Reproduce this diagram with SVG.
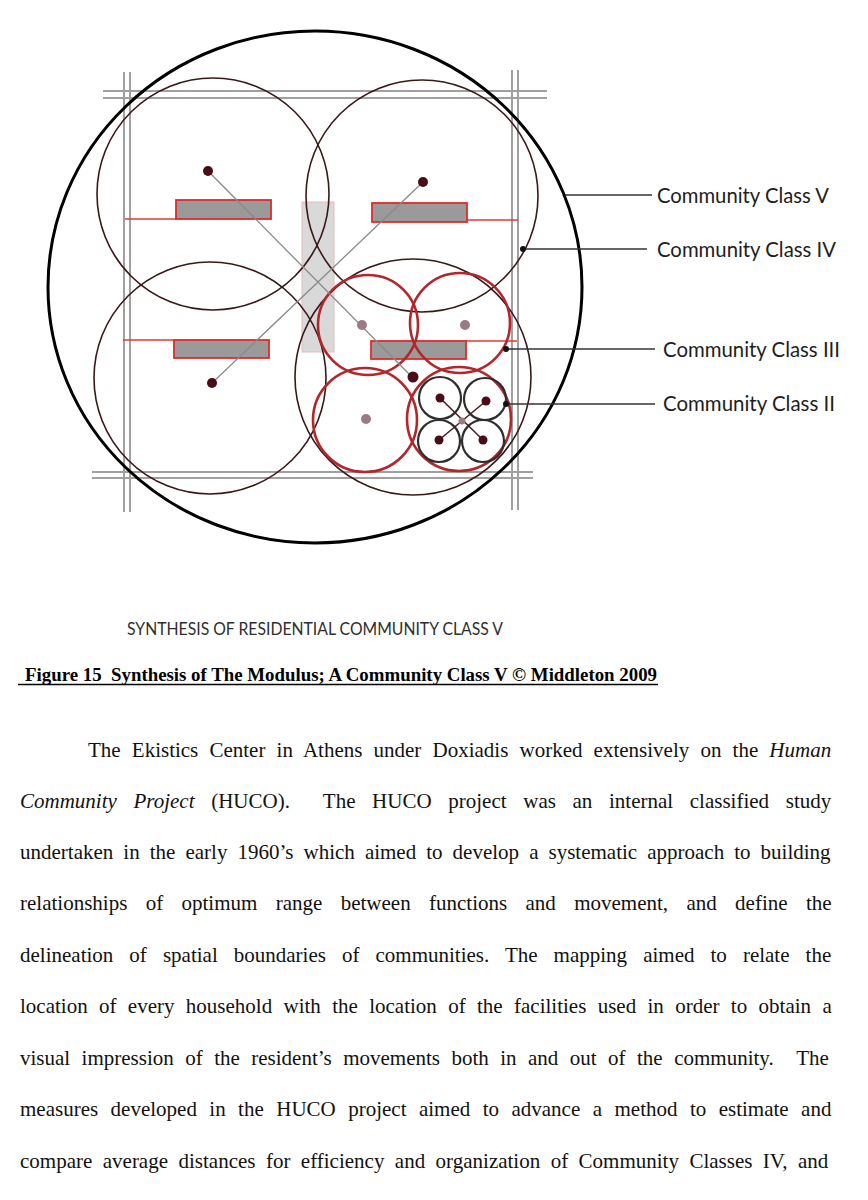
<svg xmlns="http://www.w3.org/2000/svg" width="868" height="1200" viewBox="0 0 868 1200">
<style>
.grid{stroke:#a0a0a0;stroke-width:2;fill:none}
.c5{fill:none;stroke:#000;stroke-width:3}
.c4{fill:none;stroke:#3a1818;stroke-width:1.6}
.c3{fill:none;stroke:#b3262a;stroke-width:2.6}
.c2{fill:none;stroke:#2e2e2e;stroke-width:2.2}
.bld{fill:#9a9a9a;stroke:#e02b2b;stroke-width:1.8}
.red{stroke:#e03a3a;stroke-width:1.6;fill:none}
.diag{stroke:#8a8a8a;stroke-width:1.3;fill:none}
.dk{fill:#4a0c16}
.mv{fill:#9c7a84}
.lead{stroke:#333;stroke-width:1.6;fill:none}
.lbl{font-family:Lato,"Liberation Sans",sans-serif;font-size:20.5px;fill:#1e1e1e}
.body text{font-family:"Liberation Serif","Times New Roman",serif;font-size:21px;fill:#111;white-space:pre}
.it{font-style:italic}
</style>
<rect width="868" height="1200" fill="#fff"/>
<g id="grid">
<line class="grid" x1="103" y1="91" x2="547" y2="91"/>
<line class="grid" x1="103" y1="98" x2="547" y2="98"/>
<line class="grid" x1="92" y1="472" x2="533" y2="472"/>
<line class="grid" x1="92" y1="478" x2="533" y2="478"/>
<line class="grid" x1="124" y1="72" x2="124" y2="512"/>
<line class="grid" x1="130" y1="72" x2="130" y2="512"/>
<line class="grid" x1="512" y1="70" x2="512" y2="510"/>
<line class="grid" x1="518" y1="70" x2="518" y2="510"/>
</g>
<g id="center-spine">
<rect x="302" y="202" width="32" height="150" fill="#d9d9d9" stroke="#e2bcbc" stroke-width="1"/>
</g>
<g id="class-v">
<ellipse class="c5" cx="315" cy="287" rx="267" ry="256"/>
</g>
<g id="class-iv">
<circle class="c4" cx="213" cy="194" r="116"/>
<circle class="c4" cx="422" cy="196" r="116"/>
<circle class="c4" cx="210" cy="378" r="116"/>
<circle class="c4" cx="413" cy="377" r="118"/>
</g>
<g id="buildings">
<line class="red" x1="125" y1="219" x2="176" y2="219"/>
<rect class="bld" x="176" y="200" width="95" height="19"/>
<line class="red" x1="467" y1="220" x2="518" y2="220"/>
<rect class="bld" x="372" y="203" width="95" height="19"/>
<line class="red" x1="123" y1="340" x2="174" y2="340"/>
<rect class="bld" x="174" y="340" width="95" height="18"/>
<line class="red" x1="466" y1="341" x2="517" y2="341"/>
<rect class="bld" x="371" y="341" width="95" height="18"/>
</g>
<g id="class-iii">
<circle class="c3" cx="368" cy="325" r="50"/>
<circle class="c3" cx="460" cy="323" r="50"/>
<circle class="c3" cx="365" cy="420" r="52"/>
<circle class="c3" cx="459" cy="419" r="52"/>
</g>
<g id="class-ii">
<circle class="c2" cx="440" cy="398" r="21"/>
<circle class="c2" cx="485" cy="399" r="21"/>
<circle class="c2" cx="439" cy="441" r="21"/>
<circle class="c2" cx="483" cy="441" r="21"/>
</g>
<g id="connectors">
<line class="diag" x1="208" y1="171" x2="413" y2="378"/>
<line class="diag" x1="423" y1="182" x2="212" y2="383"/>
<line stroke="#4a2020" stroke-width="1.6" x1="440" y1="398" x2="483" y2="440"/>
<line stroke="#4a2020" stroke-width="1.6" x1="486" y1="401" x2="439" y2="440"/>
<line class="lead" x1="565" y1="195" x2="652" y2="195"/>
<line class="lead" x1="523" y1="249" x2="647" y2="249"/>
<line class="lead" x1="506" y1="349" x2="655" y2="349"/>
<line class="lead" x1="506" y1="404" x2="655" y2="404"/>
<circle cx="523" cy="249" r="3" fill="#111"/>
<circle cx="506" cy="349" r="3" fill="#111"/>
<circle cx="506" cy="404" r="3" fill="#111"/>
</g>
<g id="dots">
<circle class="dk" cx="208" cy="171" r="5"/>
<circle class="dk" cx="423" cy="182" r="5"/>
<circle class="dk" cx="212" cy="383" r="5"/>
<circle class="dk" cx="413" cy="377" r="5.5"/>
<circle class="mv" cx="362" cy="325" r="5"/>
<circle class="mv" cx="465" cy="325" r="5"/>
<circle class="mv" cx="366" cy="419" r="5"/>
<circle class="dk" cx="440" cy="398" r="4.5"/>
<circle class="dk" cx="486" cy="401" r="4.5"/>
<circle class="dk" cx="439" cy="440" r="4.5"/>
<circle class="dk" cx="483" cy="440" r="4.5"/>
<circle class="mv" cx="462" cy="421" r="3.5"/>
</g>
<g id="labels">
<text class="lbl" x="657" y="203" textLength="172" lengthAdjust="spacingAndGlyphs">Community Class V</text>
<text class="lbl" x="657" y="257" textLength="179" lengthAdjust="spacingAndGlyphs">Community Class IV</text>
<text class="lbl" x="663" y="357" textLength="177" lengthAdjust="spacingAndGlyphs">Community Class III</text>
<text class="lbl" x="663" y="411" textLength="172" lengthAdjust="spacingAndGlyphs">Community Class II</text>
<text x="127" y="635" font-family="Lato,'Liberation Sans',sans-serif" font-size="17" fill="#2e2e2e" textLength="376" lengthAdjust="spacingAndGlyphs">SYNTHESIS OF RESIDENTIAL COMMUNITY CLASS V</text>
</g>
<g id="caption">
<text x="25" y="681" font-family="'Liberation Serif','Times New Roman',serif" font-weight="bold" font-size="18" fill="#000" style="white-space:pre" textLength="632" lengthAdjust="spacingAndGlyphs">Figure 15  Synthesis of The Modulus; A Community Class V © Middleton 2009</text>
<line x1="18" y1="684.5" x2="658" y2="684.5" stroke="#000" stroke-width="1.6"/>
</g>
<g id="body" class="body">
<text x="88" y="757" word-spacing="5.9">The Ekistics Center in Athens under Doxiadis worked extensively on the <tspan class="it">Human</tspan></text>
<text x="20" y="808" word-spacing="11.4"><tspan class="it">Community Project</tspan> (HUCO).  The HUCO project was an internal classified study</text>
<text x="20" y="859" word-spacing="4.8">undertaken in the early 1960’s which aimed to develop a systematic approach to building</text>
<text x="20" y="910" word-spacing="13.1">relationships of optimum range between functions and movement, and define the</text>
<text x="20" y="962" word-spacing="10.8">delineation of spatial boundaries of communities. The mapping aimed to relate the</text>
<text x="20" y="1013" word-spacing="6.1">location of every household with the location of the facilities used in order to obtain a</text>
<text x="20" y="1065" word-spacing="6.2">visual impression of the resident’s movements both in and out of the community.  The</text>
<text x="20" y="1116" word-spacing="7.2">measures developed in the HUCO project aimed to advance a method to estimate and</text>
<text x="20" y="1168" word-spacing="5.2">compare average distances for efficiency and organization of Community Classes IV, and</text>
</g>
</svg>
